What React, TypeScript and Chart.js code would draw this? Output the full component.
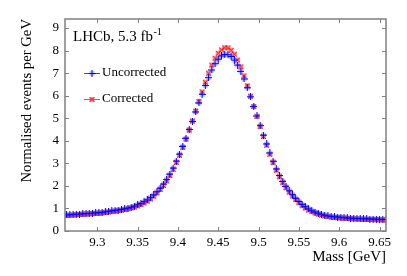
import React, { useEffect, useRef } from 'react';
import { Chart, registerables } from 'chart.js';

Chart.register(...registerables);

const massBins = [
  9.262, 9.266, 9.270, 9.274, 9.278, 9.282, 9.286, 9.290, 9.294, 9.298,
  9.302, 9.306, 9.310, 9.314, 9.318, 9.322, 9.326, 9.330, 9.334, 9.338,
  9.342, 9.346, 9.350, 9.354, 9.358, 9.362, 9.366, 9.370, 9.374, 9.378,
  9.382, 9.386, 9.390, 9.394, 9.398, 9.402, 9.406, 9.410, 9.414, 9.418,
  9.422, 9.426, 9.430, 9.434, 9.438, 9.442, 9.446, 9.450, 9.454, 9.458,
  9.462, 9.466, 9.470, 9.474, 9.478, 9.482, 9.486, 9.490, 9.494, 9.498,
  9.502, 9.506, 9.510, 9.514, 9.518, 9.522, 9.526, 9.530, 9.534, 9.538,
  9.542, 9.546, 9.550, 9.554, 9.558, 9.562, 9.566, 9.570, 9.574, 9.578,
  9.582, 9.586, 9.590, 9.594, 9.598, 9.602, 9.606, 9.610, 9.614, 9.618,
  9.622, 9.626, 9.630, 9.634, 9.638, 9.642, 9.646, 9.650, 9.654, 9.658,
];

const uncorrected = [
  0.71, 0.72, 0.73, 0.74, 0.75, 0.76, 0.77, 0.78, 0.79, 0.80,
  0.81, 0.82, 0.85, 0.87, 0.89, 0.91, 0.93, 0.95, 0.98, 1.01,
  1.05, 1.10, 1.16, 1.22, 1.30, 1.38, 1.48, 1.60, 1.74, 1.90,
  2.08, 2.28, 2.52, 2.79, 3.10, 3.41, 3.75, 4.11, 4.50, 4.86,
  5.28, 5.68, 6.06, 6.45, 6.80, 7.14, 7.42, 7.62, 7.76, 7.83,
  7.82, 7.74, 7.58, 7.36, 7.08, 6.74, 6.35, 5.95, 5.52, 5.10,
  4.67, 4.25, 3.86, 3.46, 3.09, 2.75, 2.46, 2.20, 1.98, 1.78,
  1.61, 1.45, 1.31, 1.18, 1.08, 0.98, 0.90, 0.84, 0.79, 0.74,
  0.70, 0.67, 0.65, 0.63, 0.62, 0.61, 0.59, 0.58, 0.57, 0.56,
  0.55, 0.55, 0.54, 0.54, 0.53, 0.53, 0.52, 0.52, 0.51, 0.51,
];

const corrected = [
  0.69, 0.70, 0.71, 0.72, 0.73, 0.74, 0.75, 0.76, 0.77, 0.78,
  0.79, 0.80, 0.82, 0.84, 0.86, 0.88, 0.90, 0.92, 0.95, 0.98,
  1.02, 1.06, 1.11, 1.17, 1.24, 1.32, 1.42, 1.54, 1.68, 1.84,
  2.02, 2.22, 2.46, 2.73, 3.04, 3.36, 3.70, 4.07, 4.47, 4.88,
  5.32, 5.75, 6.17, 6.60, 7.00, 7.36, 7.66, 7.88, 8.03, 8.13,
  8.12, 8.01, 7.84, 7.58, 7.28, 6.88, 6.44, 5.98, 5.52, 5.08,
  4.63, 4.19, 3.80, 3.40, 3.03, 2.69, 2.40, 2.14, 1.92, 1.72,
  1.55, 1.39, 1.25, 1.12, 1.02, 0.93, 0.86, 0.80, 0.75, 0.70,
  0.67, 0.64, 0.62, 0.60, 0.59, 0.58, 0.57, 0.56, 0.55, 0.54,
  0.53, 0.53, 0.52, 0.52, 0.51, 0.51, 0.50, 0.50, 0.49, 0.49,
];

const xTicks = [9.3, 9.35, 9.4, 9.45, 9.5, 9.55, 9.6, 9.65];
const yTicks = [0, 1, 2, 3, 4, 5, 6, 7, 8, 9];
const seriesLabels = ['Uncorrected', 'Corrected'];
const xTitle = 'Mass [GeV]';
const yTitle = 'Normalised events per GeV';
const lumiText = 'LHCb, 5.3 fb';
const lumiSup = '-1';

const SERIF = '"Liberation Serif", "Times New Roman", serif';

function makeMarker(kind: 'plus' | 'x'): HTMLCanvasElement {
  const c = document.createElement('canvas');
  c.width = 7;
  c.height = 7;
  const g = c.getContext('2d')!;
  if (kind === 'plus') {
    g.fillStyle = 'rgba(90,90,255,0.35)';
    g.fillRect(1, 1, 5, 5);
    g.fillStyle = '#0000ff';
    g.fillRect(3, 0, 1, 7);
    g.fillRect(0, 3, 7, 1);
  } else {
    g.fillStyle = 'rgba(255,70,70,0.55)';
    g.fillRect(1, 1, 5, 5);
    g.fillStyle = '#ff0000';
    for (let i = 1; i <= 5; i++) {
      g.fillRect(i, i, 1, 1);
      g.fillRect(6 - i, i, 1, 1);
    }
  }
  return c;
}

export default function App() {
  const ref = useRef<HTMLCanvasElement | null>(null);

  useEffect(() => {
    const canvas = ref.current;
    if (!canvas) return;
    const blueMarker = makeMarker('plus');
    const redMarker = makeMarker('x');

    const decor = {
      id: 'decor',
      afterDraw(chart: any) {
        const { ctx, chartArea: a, scales } = chart;
        const xs = scales.x;
        const ys = scales.y;
        ctx.save();
        // frame
        ctx.strokeStyle = '#808080';
        ctx.lineWidth = 1.5;
        ctx.strokeRect(a.left, a.top, a.right - a.left, a.bottom - a.top);
        // inward ticks
        ctx.lineWidth = 1;
        const L = 4;
        ctx.beginPath();
        xTicks.forEach((v) => {
          const px = Math.round(xs.getPixelForValue(v)) + 0.5;
          ctx.moveTo(px, a.bottom);
          ctx.lineTo(px, a.bottom - L);
          ctx.moveTo(px, a.top);
          ctx.lineTo(px, a.top + L);
        });
        yTicks.forEach((v) => {
          const py = Math.round(ys.getPixelForValue(v)) + 0.5;
          ctx.moveTo(a.left, py);
          ctx.lineTo(a.left + L, py);
          ctx.moveTo(a.right, py);
          ctx.lineTo(a.right - L, py);
        });
        ctx.stroke();

        // lumi label
        ctx.fillStyle = '#000';
        ctx.textBaseline = 'middle';
        ctx.textAlign = 'left';
        ctx.font = '15px ' + SERIF;
        const lx = a.left + 8;
        const ly = a.top + 18;
        ctx.fillText(lumiText, lx, ly);
        const w = ctx.measureText(lumiText).width;
        ctx.font = '10px ' + SERIF;
        ctx.fillText(lumiSup, lx + w + 0.5, ly - 5);

        // legend
        const items = [
          { label: seriesLabels[0], color: '#3c3cff', marker: blueMarker, y: a.top + 54 },
          { label: seriesLabels[1], color: '#ff4040', marker: redMarker, y: a.top + 80 },
        ];
        ctx.font = '13px ' + SERIF;
        items.forEach((it) => {
          ctx.strokeStyle = it.color;
          ctx.lineWidth = 1;
          ctx.beginPath();
          ctx.moveTo(a.left + 19, Math.round(it.y) + 0.5);
          ctx.lineTo(a.left + 35, Math.round(it.y) + 0.5);
          ctx.stroke();
          ctx.drawImage(it.marker, a.left + 27 - 3.5, Math.round(it.y) - 3);
          ctx.fillStyle = '#000';
          ctx.fillText(it.label, a.left + 37, it.y);
        });
        ctx.restore();
      },
    };

    const chart = new Chart(canvas, {
      type: 'scatter',
      data: {
        datasets: [
          {
            label: seriesLabels[0],
            data: massBins.map((m, i) => ({ x: m, y: uncorrected[i] })),
            pointStyle: blueMarker as any,
            pointRadius: 3,
            showLine: false,
          },
          {
            label: seriesLabels[1],
            data: massBins.map((m, i) => ({ x: m, y: corrected[i] })),
            pointStyle: redMarker as any,
            pointRadius: 3,
            showLine: false,
          },
        ],
      },
      options: {
        animation: false,
        responsive: false,
        layout: { padding: { top: 19, right: 21, left: 0, bottom: 0 } },
        plugins: {
          legend: { display: false },
          tooltip: { enabled: false },
        },
        scales: {
          x: {
            type: 'linear',
            min: 9.26,
            max: 9.658,
            grid: { display: false, drawTicks: false },
            border: { display: false },
            afterBuildTicks: (s: any) => {
              s.ticks = xTicks.map((v) => ({ value: v }));
            },
            afterFit: (s: any) => {
              s.height = 45;
            },
            ticks: {
              autoSkip: false,
              maxRotation: 0,
              padding: 4,
              color: '#000',
              font: { family: SERIF, size: 13 },
              callback: (v: any) => String(Number(v)),
            },
            title: {
              display: true,
              text: xTitle,
              align: 'end',
              color: '#000',
              font: { family: SERIF, size: 15 },
              padding: { top: 0, bottom: 10 },
            },
          },
          y: {
            type: 'linear',
            min: 0,
            max: 9.4,
            grid: { display: false, drawTicks: false },
            border: { display: false },
            afterBuildTicks: (s: any) => {
              s.ticks = yTicks.map((v) => ({ value: v }));
            },
            afterFit: (s: any) => {
              s.width = 65;
            },
            ticks: {
              autoSkip: false,
              padding: 6,
              color: '#000',
              font: { family: SERIF, size: 13 },
              callback: (v: any) => String(v),
            },
            title: {
              display: true,
              text: yTitle,
              align: 'end',
              color: '#000',
              font: { family: SERIF, size: 14.7 },
              padding: { top: 18, bottom: 0 },
            },
          },
        },
      },
      plugins: [decor],
    });
    return () => chart.destroy();
  }, []);

  return (
    <div style={{ position: 'fixed', left: 0, top: 0, width: 407, height: 276, background: '#fff' }}>
      <canvas ref={ref} width={407} height={276} style={{ width: 407, height: 276, display: 'block' }} />
    </div>
  );
}
